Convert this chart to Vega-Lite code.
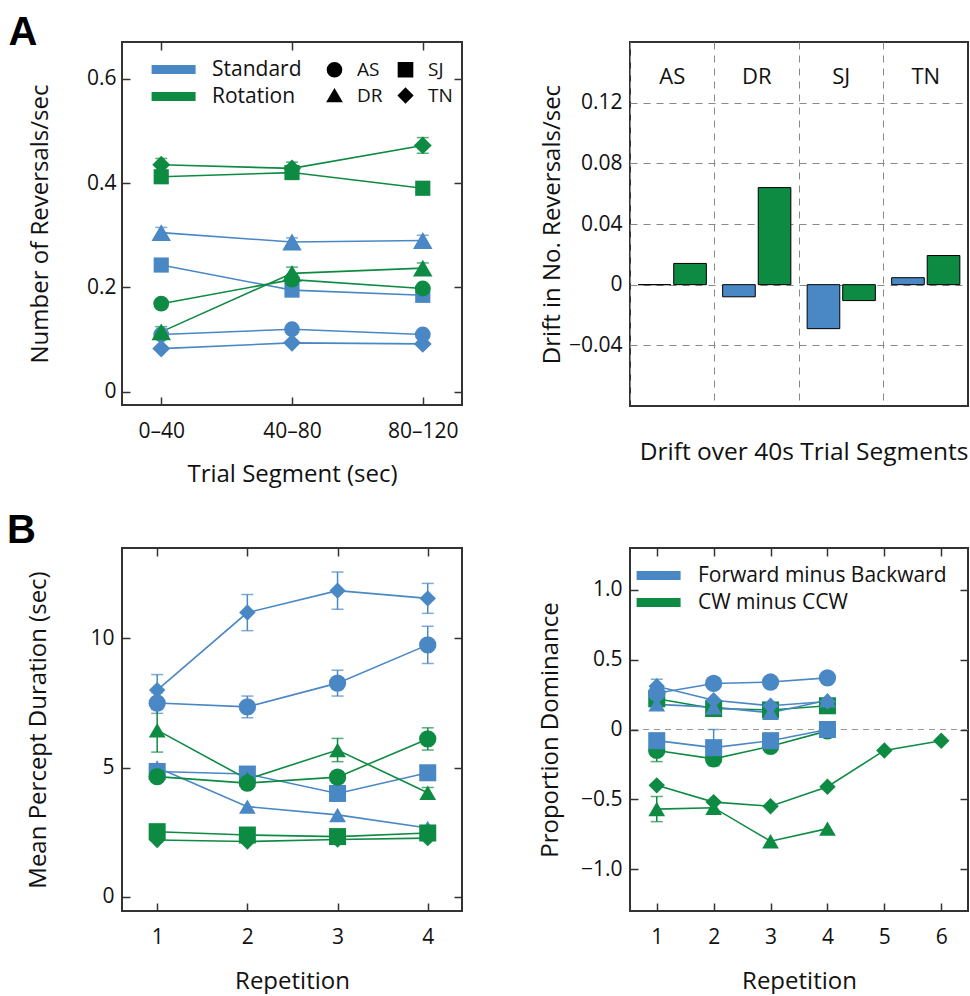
{
  "$schema": "https://vega.github.io/schema/vega-lite/v6.json",
  "background": "white",
  "padding": {"left": 5, "top": 12, "right": 0, "bottom": 0},
  "config": {
    "font": "Open Sans",
    "view": {"stroke": "#333", "strokeWidth": 2},
    "axis": {"labelFontSize": 21, "titleFontSize": 24, "titleFontWeight": "normal", "labelColor": "#111", "titleColor": "#111", "domain": false, "tickColor": "#333", "tickWidth": 1.5, "grid": false, "labelFont": "Open Sans", "titleFont": "Open Sans", "labelOverlap": false, "labelFlush": false},
    "legend": {"labelFont": "Open Sans", "labelColor": "#111", "labelLimit": 400}
  },
  "columns": 2,
  "spacing": {"row": 142, "column": 168},
  "bounds": "flush",
  "resolve": {"scale": {"color": "independent", "shape": "independent", "size": "independent"}, "legend": {"color": "independent", "shape": "independent"}},
  "datasets": {
    "aL": [
      {"seg": "0–40", "cond": "Standard", "subj": "AS", "v": 0.11, "e": 0},
      {"seg": "40–80", "cond": "Standard", "subj": "AS", "v": 0.12, "e": 0},
      {"seg": "80–120", "cond": "Standard", "subj": "AS", "v": 0.11, "e": 0},
      {"seg": "0–40", "cond": "Standard", "subj": "DR", "v": 0.305, "e": 0.01},
      {"seg": "40–80", "cond": "Standard", "subj": "DR", "v": 0.287, "e": 0.008},
      {"seg": "80–120", "cond": "Standard", "subj": "DR", "v": 0.29, "e": 0.01},
      {"seg": "0–40", "cond": "Standard", "subj": "SJ", "v": 0.243, "e": 0},
      {"seg": "40–80", "cond": "Standard", "subj": "SJ", "v": 0.195, "e": 0},
      {"seg": "80–120", "cond": "Standard", "subj": "SJ", "v": 0.185, "e": 0},
      {"seg": "0–40", "cond": "Standard", "subj": "TN", "v": 0.083, "e": 0},
      {"seg": "40–80", "cond": "Standard", "subj": "TN", "v": 0.094, "e": 0},
      {"seg": "80–120", "cond": "Standard", "subj": "TN", "v": 0.092, "e": 0},
      {"seg": "0–40", "cond": "Rotation", "subj": "AS", "v": 0.169, "e": 0},
      {"seg": "40–80", "cond": "Rotation", "subj": "AS", "v": 0.215, "e": 0},
      {"seg": "80–120", "cond": "Rotation", "subj": "AS", "v": 0.198, "e": 0},
      {"seg": "0–40", "cond": "Rotation", "subj": "DR", "v": 0.115, "e": 0.01},
      {"seg": "40–80", "cond": "Rotation", "subj": "DR", "v": 0.227, "e": 0.012},
      {"seg": "80–120", "cond": "Rotation", "subj": "DR", "v": 0.237, "e": 0.01},
      {"seg": "0–40", "cond": "Rotation", "subj": "SJ", "v": 0.412, "e": 0},
      {"seg": "40–80", "cond": "Rotation", "subj": "SJ", "v": 0.42, "e": 0},
      {"seg": "80–120", "cond": "Rotation", "subj": "SJ", "v": 0.39, "e": 0},
      {"seg": "0–40", "cond": "Rotation", "subj": "TN", "v": 0.435, "e": 0.012},
      {"seg": "40–80", "cond": "Rotation", "subj": "TN", "v": 0.428, "e": 0.012},
      {"seg": "80–120", "cond": "Rotation", "subj": "TN", "v": 0.472, "e": 0.015}
    ],
    "aR": [
      {"subj": "AS", "cond": "Standard", "v": 0},
      {"subj": "AS", "cond": "Rotation", "v": 0.014},
      {"subj": "DR", "cond": "Standard", "v": -0.008},
      {"subj": "DR", "cond": "Rotation", "v": 0.064},
      {"subj": "SJ", "cond": "Standard", "v": -0.029},
      {"subj": "SJ", "cond": "Rotation", "v": -0.0105},
      {"subj": "TN", "cond": "Standard", "v": 0.0046},
      {"subj": "TN", "cond": "Rotation", "v": 0.0192}
    ],
    "subjects": [{"subj": "AS"}, {"subj": "DR"}, {"subj": "SJ"}, {"subj": "TN"}],
    "bL": [
      {"rep": 1, "cond": "Standard", "subj": "TN", "v": 8.0, "e": 0.6},
      {"rep": 2, "cond": "Standard", "subj": "TN", "v": 11.0, "e": 0.7},
      {"rep": 3, "cond": "Standard", "subj": "TN", "v": 11.85, "e": 0.72},
      {"rep": 4, "cond": "Standard", "subj": "TN", "v": 11.55, "e": 0.58},
      {"rep": 1, "cond": "Standard", "subj": "AS", "v": 7.5, "e": 0.4},
      {"rep": 2, "cond": "Standard", "subj": "AS", "v": 7.35, "e": 0.42},
      {"rep": 3, "cond": "Standard", "subj": "AS", "v": 8.27, "e": 0.5},
      {"rep": 4, "cond": "Standard", "subj": "AS", "v": 9.75, "e": 0.72},
      {"rep": 1, "cond": "Standard", "subj": "SJ", "v": 4.85, "e": 0},
      {"rep": 2, "cond": "Standard", "subj": "SJ", "v": 4.75, "e": 0},
      {"rep": 3, "cond": "Standard", "subj": "SJ", "v": 4.0, "e": 0},
      {"rep": 4, "cond": "Standard", "subj": "SJ", "v": 4.8, "e": 0},
      {"rep": 1, "cond": "Standard", "subj": "DR", "v": 5.0, "e": 0},
      {"rep": 2, "cond": "Standard", "subj": "DR", "v": 3.49, "e": 0},
      {"rep": 3, "cond": "Standard", "subj": "DR", "v": 3.17, "e": 0},
      {"rep": 4, "cond": "Standard", "subj": "DR", "v": 2.66, "e": 0},
      {"rep": 1, "cond": "Rotation", "subj": "DR", "v": 6.45, "e": 0.85},
      {"rep": 2, "cond": "Rotation", "subj": "DR", "v": 4.55, "e": 0},
      {"rep": 3, "cond": "Rotation", "subj": "DR", "v": 5.68, "e": 0.45},
      {"rep": 4, "cond": "Rotation", "subj": "DR", "v": 4.03, "e": 0.2},
      {"rep": 1, "cond": "Rotation", "subj": "AS", "v": 4.65, "e": 0},
      {"rep": 2, "cond": "Rotation", "subj": "AS", "v": 4.4, "e": 0},
      {"rep": 3, "cond": "Rotation", "subj": "AS", "v": 4.63, "e": 0},
      {"rep": 4, "cond": "Rotation", "subj": "AS", "v": 6.11, "e": 0.43},
      {"rep": 1, "cond": "Rotation", "subj": "SJ", "v": 2.52, "e": 0},
      {"rep": 2, "cond": "Rotation", "subj": "SJ", "v": 2.39, "e": 0},
      {"rep": 3, "cond": "Rotation", "subj": "SJ", "v": 2.33, "e": 0},
      {"rep": 4, "cond": "Rotation", "subj": "SJ", "v": 2.47, "e": 0},
      {"rep": 1, "cond": "Rotation", "subj": "TN", "v": 2.2, "e": 0},
      {"rep": 2, "cond": "Rotation", "subj": "TN", "v": 2.14, "e": 0},
      {"rep": 3, "cond": "Rotation", "subj": "TN", "v": 2.22, "e": 0},
      {"rep": 4, "cond": "Rotation", "subj": "TN", "v": 2.27, "e": 0}
    ],
    "bR": [
      {"rep": 1, "cond": "CW minus CCW", "subj": "SJ", "v": 0.22, "e": 0},
      {"rep": 2, "cond": "CW minus CCW", "subj": "SJ", "v": 0.15, "e": 0},
      {"rep": 3, "cond": "CW minus CCW", "subj": "SJ", "v": 0.14, "e": 0},
      {"rep": 4, "cond": "CW minus CCW", "subj": "SJ", "v": 0.17, "e": 0},
      {"rep": 1, "cond": "CW minus CCW", "subj": "AS", "v": -0.15, "e": 0.08},
      {"rep": 2, "cond": "CW minus CCW", "subj": "AS", "v": -0.21, "e": 0},
      {"rep": 3, "cond": "CW minus CCW", "subj": "AS", "v": -0.12, "e": 0},
      {"rep": 4, "cond": "CW minus CCW", "subj": "AS", "v": -0.01, "e": 0},
      {"rep": 1, "cond": "CW minus CCW", "subj": "DR", "v": -0.57, "e": 0.09},
      {"rep": 2, "cond": "CW minus CCW", "subj": "DR", "v": -0.56, "e": 0},
      {"rep": 3, "cond": "CW minus CCW", "subj": "DR", "v": -0.8, "e": 0},
      {"rep": 4, "cond": "CW minus CCW", "subj": "DR", "v": -0.71, "e": 0},
      {"rep": 1, "cond": "CW minus CCW", "subj": "TN", "v": -0.4, "e": 0},
      {"rep": 2, "cond": "CW minus CCW", "subj": "TN", "v": -0.52, "e": 0},
      {"rep": 3, "cond": "CW minus CCW", "subj": "TN", "v": -0.55, "e": 0},
      {"rep": 4, "cond": "CW minus CCW", "subj": "TN", "v": -0.41, "e": 0},
      {"rep": 5, "cond": "CW minus CCW", "subj": "TN", "v": -0.15, "e": 0},
      {"rep": 6, "cond": "CW minus CCW", "subj": "TN", "v": -0.08, "e": 0},
      {"rep": 1, "cond": "Forward minus Backward", "subj": "AS", "v": 0.26, "e": 0},
      {"rep": 2, "cond": "Forward minus Backward", "subj": "AS", "v": 0.33, "e": 0},
      {"rep": 3, "cond": "Forward minus Backward", "subj": "AS", "v": 0.34, "e": 0},
      {"rep": 4, "cond": "Forward minus Backward", "subj": "AS", "v": 0.37, "e": 0},
      {"rep": 1, "cond": "Forward minus Backward", "subj": "DR", "v": 0.18, "e": 0},
      {"rep": 2, "cond": "Forward minus Backward", "subj": "DR", "v": 0.16, "e": 0},
      {"rep": 3, "cond": "Forward minus Backward", "subj": "DR", "v": 0.12, "e": 0},
      {"rep": 4, "cond": "Forward minus Backward", "subj": "DR", "v": 0.21, "e": 0},
      {"rep": 1, "cond": "Forward minus Backward", "subj": "SJ", "v": -0.08, "e": 0},
      {"rep": 2, "cond": "Forward minus Backward", "subj": "SJ", "v": -0.13, "e": 0.13},
      {"rep": 3, "cond": "Forward minus Backward", "subj": "SJ", "v": -0.08, "e": 0},
      {"rep": 4, "cond": "Forward minus Backward", "subj": "SJ", "v": 0.0, "e": 0},
      {"rep": 1, "cond": "Forward minus Backward", "subj": "TN", "v": 0.31, "e": 0.05},
      {"rep": 2, "cond": "Forward minus Backward", "subj": "TN", "v": 0.21, "e": 0},
      {"rep": 3, "cond": "Forward minus Backward", "subj": "TN", "v": 0.17, "e": 0},
      {"rep": 4, "cond": "Forward minus Backward", "subj": "TN", "v": 0.2, "e": 0}
    ]
  },
  "concat": [
    {
      "width": 340, "height": 363,
      "title": {"text": "A", "anchor": "start", "frame": "bounds", "fontSize": 40, "font": "Liberation Sans", "fontWeight": "bold", "dx": -20, "offset": -44, "baseline": "alphabetic", "color": "black"},
      "data": {"name": "aL"},
      "layer": [
        {
          "mark": {"type": "line", "strokeWidth": 1.6},
          "encoding": {
            "x": {"field": "seg", "type": "ordinal", "scale": {"type": "point", "padding": 0.3, "domain": ["0–40", "40–80", "80–120"]}, "axis": {"title": "Trial Segment (sec)", "labelAngle": 0, "labelPadding": 23, "titlePadding": 21, "tickSize": -8}},
            "y": {"field": "v", "type": "quantitative", "scale": {"domain": [-0.025, 0.67], "nice": false, "zero": false}, "axis": {"title": "Number of Reversals/sec", "values": [0, 0.2, 0.4, 0.6], "labelExpr": "datum.value == 0 ? '0' : format(datum.value, '.1f')", "labelPadding": 14, "titlePadding": 34, "tickSize": -8}},
            "color": {"field": "cond", "type": "nominal", "scale": {"domain": ["Standard", "Rotation"], "range": ["#4a87c5", "#0e8b42"]}, "legend": {"orient": "none", "legendX": 29, "legendY": 14, "title": null, "symbolType": "M-1.8,0H6.2", "symbolSize": 121, "symbolStrokeWidth": 9, "labelFontSize": 21, "labelOffset": 40, "rowPadding": 0, "clipHeight": 27, "padding": 0}},
            "detail": {"field": "subj"}
          }
        },
        {
          "transform": [{"filter": "datum.e > 0"}],
          "mark": {"type": "errorbar", "ticks": {"size": 12}, "thickness": 1.5},
          "encoding": {
            "x": {"field": "seg", "type": "ordinal", "axis": null},
            "y": {"field": "v", "type": "quantitative", "axis": null},
            "yError": {"field": "e"},
            "color": {"field": "cond", "type": "nominal", "legend": null},
            "detail": {"field": "subj"}
          }
        },
        {
          "mark": {"type": "point", "filled": true, "opacity": 1},
          "encoding": {
            "x": {"field": "seg", "type": "ordinal", "axis": null},
            "y": {"field": "v", "type": "quantitative", "axis": null},
            "color": {"field": "cond", "type": "nominal", "legend": null},
            "shape": {"field": "subj", "type": "nominal", "scale": {"domain": ["AS", "SJ", "DR", "TN"], "range": ["circle", "square", "triangle-up", "diamond"]}, "legend": {"orient": "none", "direction": "horizontal", "values": ["AS", "SJ", "DR", "TN"], "legendX": 203, "legendY": 18, "title": null, "columns": 2, "symbolFillColor": "black", "symbolStrokeColor": "black", "symbolSize": 200, "labelFontSize": 19, "labelOffset": 13, "columnPadding": 12, "rowPadding": 5, "padding": 0}},
            "size": {"condition": [{"test": "datum.subj === 'DR'", "value": 380}, {"test": "datum.subj === 'TN'", "value": 320}, {"test": "datum.subj === 'SJ'", "value": 230}], "value": 250}
          }
        },
        {
          "mark": {"type": "point", "opacity": 0},
          "encoding": {
            "x": {"field": "seg", "type": "ordinal", "axis": {"orient": "top", "labels": false, "title": null, "tickSize": -8}},
            "y": {"field": "v", "type": "quantitative", "axis": {"orient": "right", "labels": false, "title": null, "values": [0, 0.2, 0.4, 0.6], "tickSize": -8}}
          }
        }
      ],
      "resolve": {"axis": {"x": "independent", "y": "independent"}}
    },
    {
      "width": 338, "height": 364,
      "layer": [
        {
          "data": {"name": "aR"},
          "mark": {"type": "bar", "stroke": "black", "strokeWidth": 1},
          "encoding": {
            "x": {"field": "subj", "type": "nominal", "scale": {"domain": ["AS", "DR", "SJ", "TN"], "paddingInner": 0, "paddingOuter": 0}, "axis": {"title": "Drift over 40s Trial Segments", "titleFontSize": 24.5, "labels": false, "ticks": false, "grid": true, "gridDash": [7, 6], "gridColor": "#888", "gridWidth": 1, "bandPosition": 0, "titlePadding": 34, "titleAnchor": "end"}},
            "xOffset": {"field": "cond", "type": "nominal", "scale": {"domain": ["Standard", "Rotation"], "paddingInner": 0.083, "paddingOuter": 0.229}},
            "y": {"field": "v", "type": "quantitative", "scale": {"domain": [-0.08, 0.16], "nice": false, "zero": false}, "axis": {"title": "Drift in No. Reversals/sec", "values": [-0.04, 0, 0.04, 0.08, 0.12], "labelExpr": "datum.value == 0 ? '0' : format(datum.value, '.2f')", "grid": true, "gridDash": [7, 6], "gridColor": "#888", "gridWidth": 1, "ticks": false, "labelPadding": 8, "titlePadding": 4}},
            "color": {"field": "cond", "type": "nominal", "scale": {"domain": ["Standard", "Rotation"], "range": ["#4a87c5", "#0e8b42"]}, "legend": null}
          }
        },
        {
          "data": {"name": "subjects"},
          "mark": {"type": "text", "fontSize": 22, "font": "Open Sans", "color": "#111"},
          "encoding": {
            "x": {"field": "subj", "type": "nominal"},
            "y": {"datum": 0.137},
            "text": {"field": "subj"}
          }
        }
      ]
    },
    {
      "width": 340, "height": 363,
      "title": {"text": "B", "anchor": "start", "frame": "bounds", "fontSize": 40, "font": "Liberation Sans", "fontWeight": "bold", "dx": -20, "offset": -36, "baseline": "alphabetic", "color": "black"},
      "data": {"name": "bL"},
      "layer": [
        {
          "mark": {"type": "line", "strokeWidth": 1.6},
          "encoding": {
            "x": {"field": "rep", "type": "quantitative", "scale": {"domain": [0.61, 4.38], "nice": false, "zero": false}, "axis": {"title": "Repetition", "values": [1, 2, 3, 4], "format": "d", "labelPadding": 23, "titlePadding": 22, "tickSize": -8}},
            "y": {"field": "v", "type": "quantitative", "scale": {"domain": [-0.55, 13.5], "nice": false, "zero": false}, "axis": {"title": "Mean Percept Duration (sec)", "values": [0, 5, 10], "labelPadding": 16, "titlePadding": 39, "tickSize": -8}},
            "color": {"field": "cond", "type": "nominal", "scale": {"domain": ["Standard", "Rotation"], "range": ["#4a87c5", "#0e8b42"]}, "legend": null},
            "detail": {"field": "subj"}
          }
        },
        {
          "transform": [{"filter": "datum.e > 0"}],
          "mark": {"type": "errorbar", "ticks": {"size": 12}, "thickness": 1.5},
          "encoding": {
            "x": {"field": "rep", "type": "quantitative", "axis": null},
            "y": {"field": "v", "type": "quantitative", "axis": null},
            "yError": {"field": "e"},
            "color": {"field": "cond", "type": "nominal", "legend": null},
            "detail": {"field": "subj"}
          }
        },
        {
          "mark": {"type": "point", "filled": true, "opacity": 1},
          "encoding": {
            "x": {"field": "rep", "type": "quantitative", "axis": null},
            "y": {"field": "v", "type": "quantitative", "axis": null},
            "color": {"field": "cond", "type": "nominal", "legend": null},
            "shape": {"field": "subj", "type": "nominal", "scale": {"domain": ["AS", "SJ", "DR", "TN"], "range": ["circle", "square", "triangle-up", "diamond"]}, "legend": null},
            "size": {"field": "subj", "type": "nominal", "scale": {"domain": ["AS", "SJ", "DR", "TN"], "range": [300, 270, 460, 400]}, "legend": null}
          }
        },
        {
          "mark": {"type": "point", "opacity": 0},
          "encoding": {
            "x": {"field": "rep", "type": "quantitative", "axis": {"orient": "top", "labels": false, "title": null, "values": [1, 2, 3, 4], "tickSize": -8}},
            "y": {"field": "v", "type": "quantitative", "axis": {"orient": "right", "labels": false, "title": null, "values": [0, 5, 10], "tickSize": -8}}
          }
        }
      ],
      "resolve": {"axis": {"x": "independent", "y": "independent"}}
    },
    {
      "width": 338, "height": 363,
      "data": {"name": "bR"},
      "layer": [
        {
          "mark": {"type": "rule", "strokeDash": [6, 5], "color": "#999", "strokeWidth": 1},
          "encoding": {"y": {"datum": 0, "axis": null}}
        },
        {
          "mark": {"type": "line", "strokeWidth": 1.6},
          "encoding": {
            "x": {"field": "rep", "type": "quantitative", "scale": {"domain": [0.53, 6.47], "nice": false, "zero": false}, "axis": {"title": "Repetition", "values": [1, 2, 3, 4, 5, 6], "format": "d", "labelPadding": 23, "titlePadding": 22, "tickSize": -8}},
            "y": {"field": "v", "type": "quantitative", "scale": {"domain": [-1.3, 1.3], "nice": false, "zero": false}, "axis": {"title": "Proportion Dominance", "values": [-1, -0.5, 0, 0.5, 1], "labelExpr": "datum.value == 0 ? '0' : format(datum.value, '.1f')", "labelPadding": 16, "titlePadding": 18, "tickSize": -8}},
            "color": {"field": "cond", "type": "nominal", "scale": {"domain": ["Forward minus Backward", "CW minus CCW"], "range": ["#4a87c5", "#0e8b42"]}, "legend": {"orient": "none", "legendX": 6, "legendY": 14, "title": null, "symbolType": "M-1.8,0H6.2", "symbolSize": 121, "symbolStrokeWidth": 9, "labelFontSize": 21, "labelOffset": 41, "rowPadding": 0, "clipHeight": 27, "padding": 0}},
            "detail": {"field": "subj"}
          }
        },
        {
          "transform": [{"filter": "datum.e > 0"}],
          "mark": {"type": "errorbar", "ticks": {"size": 12}, "thickness": 1.5},
          "encoding": {
            "x": {"field": "rep", "type": "quantitative", "axis": null},
            "y": {"field": "v", "type": "quantitative", "axis": null},
            "yError": {"field": "e"},
            "color": {"field": "cond", "type": "nominal", "legend": null},
            "detail": {"field": "subj"}
          }
        },
        {
          "mark": {"type": "point", "filled": true, "opacity": 1},
          "encoding": {
            "x": {"field": "rep", "type": "quantitative", "axis": null},
            "y": {"field": "v", "type": "quantitative", "axis": null},
            "color": {"field": "cond", "type": "nominal", "legend": null},
            "shape": {"field": "subj", "type": "nominal", "scale": {"domain": ["AS", "SJ", "DR", "TN"], "range": ["circle", "square", "triangle-up", "diamond"]}, "legend": null},
            "size": {"field": "subj", "type": "nominal", "scale": {"domain": ["AS", "SJ", "DR", "TN"], "range": [300, 270, 460, 400]}, "legend": null}
          }
        },
        {
          "mark": {"type": "point", "opacity": 0},
          "encoding": {
            "x": {"field": "rep", "type": "quantitative", "axis": {"orient": "top", "labels": false, "title": null, "values": [1, 2, 3, 4, 5, 6], "tickSize": -8}},
            "y": {"field": "v", "type": "quantitative", "axis": {"orient": "right", "labels": false, "title": null, "values": [-1, -0.5, 0, 0.5, 1], "tickSize": -8}}
          }
        }
      ],
      "resolve": {"axis": {"x": "independent", "y": "independent"}}
    }
  ]
}
